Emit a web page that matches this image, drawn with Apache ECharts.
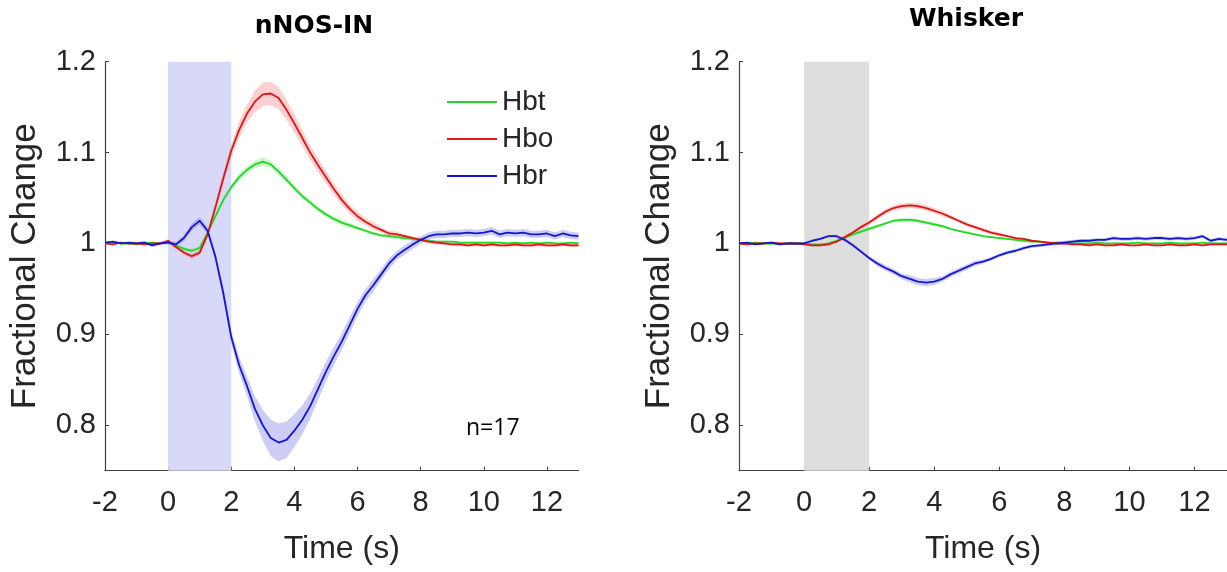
<!DOCTYPE html>
<html>
<head>
<meta charset="utf-8">
<script src="https://cdn.jsdelivr.net/npm/echarts@6/dist/echarts.min.js"></script>
<style>
  html, body { margin: 0; padding: 0; background: #fff; }
  #chart { width: 1227px; height: 572px; }
</style>
</head>
<body>
<div id="chart"></div>
<script>
// Time after stimulus onset (s), sampled every 0.25 s
const timeSec = [
  -2, -1.75, -1.5, -1.25, -1, -0.75, -0.5, -0.25,
  0, 0.25, 0.5, 0.75, 1, 1.25, 1.5, 1.75,
  2, 2.25, 2.5, 2.75, 3, 3.25, 3.5, 3.75,
  4, 4.25, 4.5, 4.75, 5, 5.25, 5.5, 5.75,
  6, 6.25, 6.5, 6.75, 7, 7.25, 7.5, 7.75,
  8, 8.25, 8.5, 8.75, 9, 9.25, 9.5, 9.75,
  10, 10.25, 10.5, 10.75, 11, 11.25, 11.5, 11.75,
  12, 12.25, 12.5, 12.75, 13
];

// nNOS-IN stimulation: mean fractional change
const nnosHbt = [
  1.000, 1.001, 1.000, 1.000, 0.999, 1.000, 1.001, 1.000,
  1.002, 0.998, 0.994, 0.992, 0.995, 1.012, 1.030, 1.048,
  1.062, 1.073, 1.081, 1.087, 1.090, 1.087, 1.079, 1.070,
  1.061, 1.052, 1.045, 1.038, 1.032, 1.027, 1.023, 1.020,
  1.017, 1.014, 1.011, 1.009, 1.008, 1.007, 1.006, 1.005,
  1.004, 1.003, 1.002, 1.002, 1.002, 1.001, 1.001, 1.001,
  1.001, 1.001, 1.001, 1.000, 1.001, 1.000, 1.001, 1.000,
  1.001, 1.000, 1.000, 1.001, 1.000
];
const nnosHbo = [
  1.000, 0.999, 1.001, 1.000, 1.000, 0.999, 1.000, 1.000,
  1.003, 0.996, 0.990, 0.986, 0.990, 1.010, 1.040, 1.072,
  1.102, 1.125, 1.143, 1.156, 1.164, 1.165, 1.160, 1.147,
  1.132, 1.116, 1.100, 1.086, 1.073, 1.060, 1.048, 1.038,
  1.030, 1.024, 1.019, 1.015, 1.011, 1.010, 1.008, 1.006,
  1.004, 1.002, 1.001, 1.000, 0.999, 0.999, 0.998, 0.999,
  0.998, 0.999, 0.998, 0.998, 0.999, 0.998, 0.998, 0.999,
  0.998, 0.998, 0.999, 0.998, 0.998
];
const nnosHbr = [
  1.001, 1.002, 1.000, 1.001, 1.000, 1.001, 0.998, 1.000,
  1.001, 0.999, 1.006, 1.018, 1.025, 1.014, 0.985, 0.945,
  0.897, 0.866, 0.843, 0.818, 0.800, 0.786, 0.781, 0.784,
  0.794, 0.806, 0.821, 0.840, 0.859, 0.876, 0.892, 0.910,
  0.928, 0.943, 0.954, 0.966, 0.978, 0.987, 0.993, 0.999,
  1.004, 1.008, 1.010, 1.010, 1.011, 1.011, 1.012, 1.011,
  1.012, 1.014, 1.010, 1.012, 1.011, 1.012, 1.010, 1.010,
  1.011, 1.008, 1.011, 1.009, 1.008
];
// nNOS-IN stimulation: standard error of the mean
const nnosHbtSem = [
  0.001, 0.001, 0.001, 0.001, 0.001, 0.001, 0.001, 0.001,
  0.001, 0.001, 0.002, 0.002, 0.002, 0.002, 0.003, 0.003,
  0.003, 0.004, 0.004, 0.004, 0.005, 0.004, 0.004, 0.004,
  0.003, 0.003, 0.003, 0.003, 0.003, 0.003, 0.003, 0.003,
  0.002, 0.002, 0.002, 0.002, 0.002, 0.002, 0.002, 0.002,
  0.001, 0.001, 0.001, 0.001, 0.001, 0.001, 0.001, 0.001,
  0.001, 0.001, 0.001, 0.001, 0.001, 0.001, 0.001, 0.001,
  0.001, 0.001, 0.001, 0.001, 0.001
];
const nnosHboSem = [
  0.001, 0.001, 0.001, 0.001, 0.001, 0.001, 0.001, 0.001,
  0.002, 0.002, 0.002, 0.003, 0.003, 0.004, 0.005, 0.006,
  0.007, 0.009, 0.010, 0.012, 0.013, 0.013, 0.012, 0.011,
  0.010, 0.009, 0.008, 0.008, 0.007, 0.006, 0.006, 0.005,
  0.005, 0.004, 0.004, 0.003, 0.003, 0.003, 0.002, 0.002,
  0.002, 0.002, 0.002, 0.002, 0.002, 0.002, 0.002, 0.002,
  0.002, 0.002, 0.002, 0.002, 0.002, 0.002, 0.002, 0.002,
  0.002, 0.002, 0.002, 0.002, 0.002
];
const nnosHbrSem = [
  0.001, 0.001, 0.001, 0.001, 0.002, 0.002, 0.002, 0.002,
  0.002, 0.003, 0.003, 0.004, 0.004, 0.004, 0.005, 0.006,
  0.007, 0.009, 0.011, 0.014, 0.017, 0.020, 0.021, 0.020,
  0.018, 0.016, 0.014, 0.012, 0.011, 0.010, 0.009, 0.009,
  0.008, 0.007, 0.007, 0.006, 0.006, 0.005, 0.005, 0.005,
  0.004, 0.004, 0.004, 0.004, 0.004, 0.004, 0.004, 0.004,
  0.004, 0.004, 0.004, 0.004, 0.004, 0.004, 0.004, 0.004,
  0.004, 0.004, 0.004, 0.004, 0.004
];

// Whisker stimulation: mean fractional change
const whiskerHbt = [
  1.000, 1.000, 1.001, 1.000, 1.000, 0.999, 1.000, 1.000,
  1.000, 0.999, 0.999, 1.000, 1.003, 1.006, 1.010, 1.013,
  1.016, 1.019, 1.022, 1.025, 1.026, 1.026, 1.025, 1.023,
  1.021, 1.019, 1.016, 1.014, 1.012, 1.010, 1.008, 1.007,
  1.006, 1.005, 1.004, 1.003, 1.002, 1.002, 1.001, 1.001,
  1.001, 1.000, 1.000, 1.000, 1.001, 1.000, 1.000, 1.000,
  1.000, 1.001, 1.000, 1.000, 1.000, 1.001, 1.000, 1.000,
  1.000, 1.001, 1.000, 1.000, 1.000
];
const whiskerHbo = [
  1.000, 0.999, 1.000, 1.000, 1.001, 1.000, 1.000, 1.000,
  0.999, 0.998, 0.998, 0.999, 1.002, 1.007, 1.012, 1.018,
  1.023, 1.029, 1.035, 1.039, 1.041, 1.042, 1.041, 1.039,
  1.036, 1.033, 1.029, 1.025, 1.021, 1.018, 1.015, 1.012,
  1.010, 1.008, 1.006, 1.005, 1.003, 1.002, 1.001, 1.000,
  1.000, 0.999, 0.999, 0.998, 0.999, 0.998, 0.998, 0.999,
  0.998, 0.998, 0.999, 0.998, 0.998, 0.999, 0.998, 0.998,
  0.999, 0.998, 0.999, 0.999, 0.999
];
const whiskerHbr = [
  1.000, 1.001, 0.999, 1.000, 1.001, 0.999, 1.000, 1.000,
  1.000, 1.003, 1.005, 1.008, 1.008, 1.004, 0.998, 0.991,
  0.984, 0.978, 0.973, 0.969, 0.964, 0.961, 0.958, 0.957,
  0.958, 0.961, 0.966, 0.970, 0.974, 0.978, 0.980, 0.983,
  0.987, 0.990, 0.992, 0.995, 0.997, 0.998, 0.999, 1.000,
  1.001, 1.002, 1.003, 1.003, 1.004, 1.004, 1.006, 1.005,
  1.005, 1.006, 1.005, 1.006, 1.006, 1.005, 1.006, 1.005,
  1.006, 1.008, 1.003, 1.005, 1.004
];
// Whisker stimulation: standard error of the mean
const whiskerHbtSem = [
  0.001, 0.001, 0.001, 0.001, 0.001, 0.001, 0.001, 0.001,
  0.001, 0.001, 0.001, 0.001, 0.001, 0.001, 0.001, 0.002,
  0.002, 0.002, 0.002, 0.002, 0.002, 0.002, 0.002, 0.002,
  0.002, 0.002, 0.001, 0.001, 0.001, 0.001, 0.001, 0.001,
  0.001, 0.001, 0.001, 0.001, 0.001, 0.001, 0.001, 0.001,
  0.001, 0.001, 0.001, 0.001, 0.001, 0.001, 0.001, 0.001,
  0.001, 0.001, 0.001, 0.001, 0.001, 0.001, 0.001, 0.001,
  0.001, 0.001, 0.001, 0.001, 0.001
];
const whiskerHboSem = [
  0.001, 0.001, 0.001, 0.001, 0.001, 0.001, 0.001, 0.001,
  0.001, 0.001, 0.001, 0.001, 0.001, 0.002, 0.002, 0.002,
  0.002, 0.003, 0.003, 0.003, 0.003, 0.003, 0.003, 0.003,
  0.003, 0.003, 0.002, 0.002, 0.002, 0.002, 0.002, 0.002,
  0.002, 0.001, 0.001, 0.001, 0.001, 0.001, 0.001, 0.001,
  0.001, 0.001, 0.001, 0.001, 0.001, 0.001, 0.001, 0.001,
  0.001, 0.001, 0.001, 0.001, 0.001, 0.001, 0.001, 0.001,
  0.001, 0.001, 0.001, 0.001, 0.001
];
const whiskerHbrSem = [
  0.001, 0.001, 0.001, 0.001, 0.001, 0.001, 0.001, 0.001,
  0.001, 0.001, 0.001, 0.001, 0.002, 0.002, 0.002, 0.002,
  0.002, 0.003, 0.003, 0.003, 0.003, 0.004, 0.004, 0.004,
  0.004, 0.003, 0.003, 0.003, 0.003, 0.003, 0.002, 0.002,
  0.002, 0.002, 0.002, 0.002, 0.002, 0.002, 0.002, 0.002,
  0.002, 0.002, 0.002, 0.002, 0.002, 0.002, 0.002, 0.002,
  0.002, 0.002, 0.002, 0.002, 0.002, 0.002, 0.002, 0.002,
  0.002, 0.002, 0.002, 0.002, 0.002
];

const signalNames = ['Hbt', 'Hbo', 'Hbr'];
const xTicks = [-2, 0, 2, 4, 6, 8, 10, 12];
const yTicks = [0.8, 0.9, 1, 1.1, 1.2];
const stimWindow = [0, 2];

const lineColors = { Hbt: '#22d822', Hbo: '#e01515', Hbr: '#1616cc' };
const bandColors = { Hbt: 'rgba(110,225,110,0.35)', Hbo: 'rgba(240,110,110,0.32)', Hbr: 'rgba(120,120,230,0.38)' };

const panels = [
  { title: 'nNOS-IN', shade: '#d8d8f8',
    mean: { Hbt: nnosHbt, Hbo: nnosHbo, Hbr: nnosHbr },
    sem: { Hbt: nnosHbtSem, Hbo: nnosHboSem, Hbr: nnosHbrSem } },
  { title: 'Whisker', shade: '#dedede',
    mean: { Hbt: whiskerHbt, Hbo: whiskerHbo, Hbr: whiskerHbr },
    sem: { Hbt: whiskerHbtSem, Hbo: whiskerHboSem, Hbr: whiskerHbrSem } }
];

const labelFont = "'Liberation Sans', Arial, Helvetica, sans-serif";
const inkColor = '#262626';
const axisColor = '#404040';

function axisPair(idx) {
  const xAxis = {
    type: 'value', gridIndex: idx, min: -2, max: 13, interval: 2,
    name: 'Time (s)', nameLocation: 'middle', nameGap: 62,
    nameTextStyle: { fontFamily: labelFont, fontSize: 32, color: inkColor },
    axisLine: { show: true, onZero: false, lineStyle: { color: axisColor, width: 1.2 } },
    axisTick: { show: true, inside: true, length: 4, customValues: xTicks, lineStyle: { color: axisColor } },
    axisLabel: { fontFamily: labelFont, fontSize: 29, color: inkColor, margin: 18,
                 customValues: xTicks },
    splitLine: { show: false }
  };
  const yAxis = {
    type: 'value', gridIndex: idx, min: 0.75, max: 1.2,
    name: 'Fractional Change', nameLocation: 'middle', nameGap: 62,
    nameTextStyle: { fontFamily: labelFont, fontSize: 35, color: inkColor },
    axisLine: { show: true, onZero: false, lineStyle: { color: axisColor, width: 1.2 } },
    axisTick: { show: true, inside: true, length: 4, customValues: yTicks, lineStyle: { color: axisColor } },
    axisLabel: { fontFamily: labelFont, fontSize: 29, color: inkColor, margin: 9,
                 customValues: yTicks,
                 formatter: v => String(Math.round(v * 10) / 10) },
    splitLine: { show: false }
  };
  return { xAxis, yAxis };
}

// Shaded mean ± SEM band drawn as one polygon through the axis scales
function bandSeries(idx, mean, sem, color) {
  return {
    type: 'custom', xAxisIndex: idx, yAxisIndex: idx, silent: true, z: 1,
    data: [[timeSec[0], mean[0]]],
    encode: { x: 0, y: 1 },
    renderItem: (params, api) => {
      const pts = [];
      for (let i = 0; i < timeSec.length; i++) pts.push(api.coord([timeSec[i], mean[i] + sem[i]]));
      for (let i = timeSec.length - 1; i >= 0; i--) pts.push(api.coord([timeSec[i], mean[i] - sem[i]]));
      return { type: 'polygon', shape: { points: pts }, style: { fill: color } };
    }
  };
}

const xAxes = [], yAxes = [], series = [];
panels.forEach((p, idx) => {
  const ax = axisPair(idx);
  xAxes.push(ax.xAxis);
  yAxes.push(ax.yAxis);
  // stimulation window
  series.push({
    type: 'line', xAxisIndex: idx, yAxisIndex: idx, silent: true, z: 0,
    data: [[stimWindow[0], 1]], symbol: 'none', lineStyle: { opacity: 0 },
    markArea: {
      silent: true,
      itemStyle: { color: p.shade },
      data: [[{ xAxis: stimWindow[0] }, { xAxis: stimWindow[1] }]]
    }
  });
  signalNames.forEach(name => {
    series.push(bandSeries(idx, p.mean[name], p.sem[name], bandColors[name]));
  });
  signalNames.forEach(name => {
    series.push({
      type: 'line', name: name, xAxisIndex: idx, yAxisIndex: idx,
      data: timeSec.map((t, i) => [t, p.mean[name][i]]),
      symbol: 'none', z: 3,
      lineStyle: { color: lineColors[name], width: 1.8 },
      itemStyle: { color: lineColors[name] }
    });
  });
});

const chart = echarts.init(document.getElementById('chart'), null, { renderer: 'canvas' });
chart.setOption({
  animation: false,
  backgroundColor: '#ffffff',
  title: [
    { text: panels[0].title, left: 314, top: 14, textAlign: 'center', padding: 0,
      textStyle: { fontFamily: "'DejaVu Sans', sans-serif", fontWeight: 'bold', fontSize: 25, color: '#000' } },
    { text: panels[1].title, left: 966, top: 7, textAlign: 'center', padding: 0,
      textStyle: { fontFamily: "'DejaVu Sans', sans-serif", fontWeight: 'bold', fontSize: 25, color: '#000' } },
    { text: 'n=17', left: 466, top: 417, padding: 0,
      textStyle: { fontFamily: "'Open Sans', sans-serif", fontWeight: 'normal', fontSize: 23, color: '#000' } }
  ],
  legend: {
    data: signalNames, orient: 'vertical', left: 442, top: 82,
    icon: 'rect', itemWidth: 50, itemHeight: 2, itemGap: 7, selectedMode: false,
    textStyle: { fontFamily: labelFont, fontSize: 28, color: inkColor, lineHeight: 30 }
  },
  grid: [
    { left: 105, top: 61.7, width: 473.5, height: 409 },
    { left: 739, top: 61.7, width: 488, height: 409 }
  ],
  xAxis: xAxes,
  yAxis: yAxes,
  series: series
});
</script>
</body>
</html>
